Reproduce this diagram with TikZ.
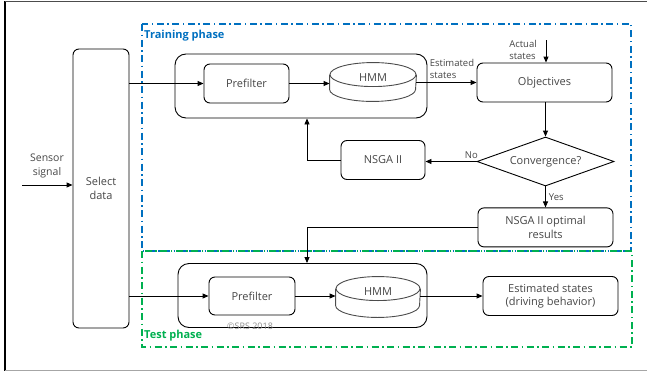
\documentclass[tikz,border=0pt]{standalone}
\usepackage{fontspec}
\setmainfont{Open Sans}
\usetikzlibrary{positioning,shapes.geometric,arrows.meta,calc}
\definecolor{trainblue}{RGB}{0,112,192}
\definecolor{testgreen}{RGB}{0,176,80}
\definecolor{txtgray}{RGB}{70,70,70}
\def\BoxH{39pt}
\def\WideW{135pt}
\def\DrumR{12pt}
\tikzset{
  block/.style={draw, line width=0.9pt, rounded corners=6pt, align=center, text=txtgray, inner sep=0pt,
    font=\fontsize{11}{13.5}\selectfont, minimum height=\BoxH},
  group/.style={draw, rounded corners=11pt, line width=0.9pt},
  flow/.style={-{Triangle[length=6pt,width=5pt]}, line width=0.9pt},
  lbl/.style={text=txtgray, inner sep=0pt, align=left, font=\fontsize{9.5}{12}\selectfont},
  phase/.style={line width=1.3pt, dash pattern=on 7pt off 3.5pt on 1.5pt off 3.5pt},
  drumtext/.style={text=txtgray, font=\fontsize{11}{12}\selectfont},
}
\begin{document}
\begin{tikzpicture}[x=1pt, y=-1pt]
  \useasboundingbox (0,0) rectangle (647,372);
  % frame of the figure
  \draw[line width=1.5pt] (5,1) -- (5,371);
  \draw[line width=1pt, black!70] (5,1.5) -- (647,1.5);
  \draw[line width=1pt, black!35] (5,370.5) -- (647,370.5);

  % phases
  \draw[phase, trainblue] (142,24) rectangle (631,251);
  \draw[phase, testgreen] (142,251) rectangle (632,347);
  \node[anchor=west, inner sep=0pt, text=trainblue, font=\bfseries\fontsize{11}{12}\selectfont] (trlbl) at (144,36) {Training phase};
  \node[anchor=west, inner sep=0pt, text=testgreen, font=\bfseries\fontsize{11}{12}\selectfont] (telbl) at (144,336) {Test phase};

  \node[block, minimum width=56pt, minimum height=279pt] (sel) at (101,188.5) {Select\\data};
  \node[lbl, align=center, font=\fontsize{10.5}{14}\selectfont] (senslbl) at (47,165.5) {Sensor\\signal};
  \coordinate (sens) at (22,185);

  % training
  \node[group, minimum width=252pt, minimum height=64pt] (trbox) at (301,86) {};
  \node[block, minimum width=85pt] (pre1) at (246.5,83.5) {Prefilter};
  \node[block, draw=none, minimum width=86pt, minimum height=38pt] (hmm1) at (373,82) {};
  \node[block, minimum width=\WideW] (obj) at (544.5,82.5) {Objectives};
  \node[block, diamond, aspect=2.8, rounded corners=0pt, minimum width=137pt, minimum height=49pt] (conv) at (545.5,161.5) {Convergence?};
  \node[block, minimum width=84pt] (nsga) at (383,160) {NSGA II};
  \node[block, below=21pt of conv.south, anchor=north, minimum width=\WideW] (opt) {NSGA II optimal\\results};
  \node[lbl] (estlbl) at (452,69) {Estimated\\states};
  \node[lbl] (actlbl) at (523,49.5) {Actual\\states};
  \coordinate (act) at (546,40);

  % test
  \node[group, minimum width=249pt, minimum height=64pt] (tebox) at (302.5,295.5) {};
  \node[block, minimum width=86pt, minimum height=38pt] (pre2) at (252,296) {Prefilter};
  \node[block, draw=none, minimum width=84pt, minimum height=40pt] (hmm2) at (378,297) {};
  \node[block, minimum width=\WideW] (est) at (550.5,296) {Estimated states\\(driving behavior)};

  \begin{scope}[line width=0.9pt, black!70]
    \draw ([yshift=-\DrumR]hmm1.north west) -- ([yshift=\DrumR]hmm1.south west)
      arc[start angle=180, end angle=360, x radius=43pt, y radius=\DrumR] -- ([yshift=-\DrumR]hmm1.north east);
    \draw ([yshift=-\DrumR]hmm1.north) ellipse[x radius=43pt, y radius=\DrumR];
    \draw ([yshift=-\DrumR]hmm2.north west) -- ([yshift=\DrumR]hmm2.south west)
      arc[start angle=180, end angle=360, x radius=42pt, y radius=\DrumR] -- ([yshift=-\DrumR]hmm2.north east);
    \draw ([yshift=-\DrumR]hmm2.north) ellipse[x radius=42pt, y radius=\DrumR];
  \end{scope}
  \node[drumtext] (hmmtxt1) at ([yshift=-\DrumR-3pt]hmm1.north) {HMM};
  \node[drumtext] (hmmtxt2) at ([yshift=-\DrumR-3pt]hmm2.north) {HMM};
  \node[text=black!45, inner sep=0pt, font=\fontsize{9}{10}\selectfont] (copy) at (250,326.5) {©SRS 2018};

  % connectors
  \draw[flow] (sens) -- (sens -| sel.west);
  \draw[flow] (sel.east |- pre1) -- (pre1);
  \draw[flow] (pre1) -- (pre1 -| hmm1.west);
  \draw[flow] (hmm1.east |- obj) -- (obj);
  \draw[flow] (act) -- (act |- obj.north);
  \draw[flow] (obj.south -| conv.north) -- (conv.north);
  \draw[flow] (conv.west) -- node[lbl, pos=0.1, above=2pt] {No} (conv.west -| nsga.east);
  \draw[flow] (nsga.west) -| ($(trbox.south)+(6,0)$);
  \draw[flow] (conv.south) -- node[lbl, right=3pt] {Yes} (opt.north);
  \draw[flow] (opt.west) -| ($(tebox.north)+(4.5,0)$);
  \draw[flow] (sel.east |- pre2) -- (pre2);
  \draw[flow] (pre2) -- (pre2 -| hmm2.west);
  \draw[flow] (hmm2.east |- est) -- (est);
\end{tikzpicture}
\end{document}
